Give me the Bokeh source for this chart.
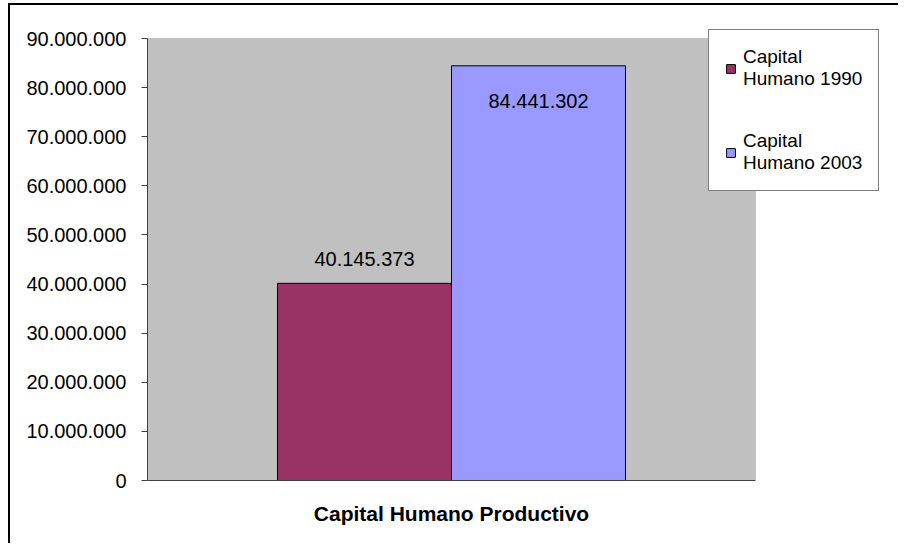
from bokeh.plotting import figure
from bokeh.models import (Range1d, FixedTicker, CustomJSTickFormatter, BoxAnnotation,
                          Legend, LegendItem, ColumnDataSource)
from bokeh.embed import file_html
from bokeh.resources import INLINE
from bokeh.core.properties import value

# ---- data ----
categories = ["Capital Humano Productivo"]
series_labels = ["Capital\nHumano 1990", "Capital\nHumano 2003"]
values_1990 = [40145373]
values_2003 = [84441302]
y_ticks = [0, 10000000, 20000000, 30000000, 40000000, 50000000,
           60000000, 70000000, 80000000, 90000000]
colors = ["#993366", "#9999FF"]


def fmt(v):
    return f"{v:,}".replace(",", ".")


BW = 0.2862  # bar width as fraction of a category slot
x_pos = [i + 0.5 for i in range(len(categories))]

src = ColumnDataSource(dict(
    x1990=[x - BW / 2 for x in x_pos],
    x2003=[x + BW / 2 for x in x_pos],
    v1990=values_1990,
    v2003=values_2003,
    l1990=[fmt(v) for v in values_1990],
    l2003=[fmt(v) for v in values_2003],
))

FONT = "Liberation Sans"

# layout (pixels)
PLOT_W, PLOT_H = 608, 442      # grey plot area
FRAME_W, FRAME_H = 738, 452    # frame also holds the legend
x_end = len(categories) * FRAME_W / PLOT_W
y_end = y_ticks[-1] * FRAME_H / PLOT_H

p = figure(x_range=Range1d(0, x_end), y_range=Range1d(0, y_end),
           width=890, height=540, output_backend="svg", toolbar_location=None,
           min_border_left=137, min_border_right=15, min_border_top=23,
           min_border_bottom=65,
           background_fill_color="white", border_fill_color="white",
           outline_line_color=None)

p.styles = {"margin-left": "8px", "margin-top": "3px",
            "border-top": "2px solid black", "border-left": "2px solid black"}

plot_area = BoxAnnotation(left=0, right=len(categories), bottom=0, top=y_ticks[-1],
                          fill_color="#C0C0C0", fill_alpha=1,
                          line_color="#808080", line_width=1, level="underlay")
p.add_layout(plot_area)

r1 = p.vbar(x="x1990", top="v1990", width=BW, source=src,
            fill_color=colors[0], line_color="black", line_width=1)
r2 = p.vbar(x="x2003", top="v2003", width=BW, source=src,
            fill_color=colors[1], line_color="black", line_width=1)

p.text(x="x1990", y="v1990", text="l1990", source=src,
       text_align="center", text_baseline="alphabetic", y_offset=-24,
       text_font=value(FONT), text_font_size="20px", text_color="black")
p.text(x="x2003", y="v2003", text="l2003", source=src,
       text_align="center", text_baseline="alphabetic", y_offset=35,
       text_font=value(FONT), text_font_size="20px", text_color="black")

p.xgrid.visible = False
p.ygrid.visible = False

ya = p.yaxis[0]
ya.ticker = FixedTicker(ticks=y_ticks)
ya.bounds = (0, y_ticks[-1])
ya.formatter = CustomJSTickFormatter(
    code="return Math.round(tick).toString().replace(/\\B(?=(\\d{3})+(?!\\d))/g, '.');")
ya.major_tick_out = 6
ya.major_tick_in = 0
ya.minor_tick_out = 0
ya.minor_tick_in = 0
ya.axis_line_color = "#404040"
ya.major_tick_line_color = "#404040"
ya.major_label_standoff = 15
ya.major_label_text_font = FONT
ya.major_label_text_font_size = "20px"
ya.major_label_text_color = "black"

xa = p.xaxis[0]
xa.ticker = FixedTicker(ticks=x_pos)
xa.major_label_overrides = {x: c for x, c in zip(x_pos, categories)}
xa.bounds = (0, len(categories))
xa.major_tick_out = 0
xa.major_tick_in = 0
xa.minor_tick_out = 0
xa.minor_tick_in = 0
xa.axis_line_color = "#404040"
xa.major_label_standoff = 21
xa.major_label_text_font = FONT
xa.major_label_text_font_size = "21px"
xa.major_label_text_font_style = "bold"
xa.major_label_text_color = "black"

legend = Legend(items=[LegendItem(label=series_labels[0], renderers=[r1]),
                       LegendItem(label=series_labels[1], renderers=[r2])],
                location=(561, 289), border_line_color="black", border_line_width=1,
                background_fill_color="white", background_fill_alpha=1,
                label_text_font=FONT, label_text_font_size="19px",
                label_text_color="black",
                glyph_width=11, glyph_height=11, label_standoff=7,
                padding=16, spacing=40, margin=0)
p.add_layout(legend)

open("out.html", "w").write(file_html(p, INLINE))
